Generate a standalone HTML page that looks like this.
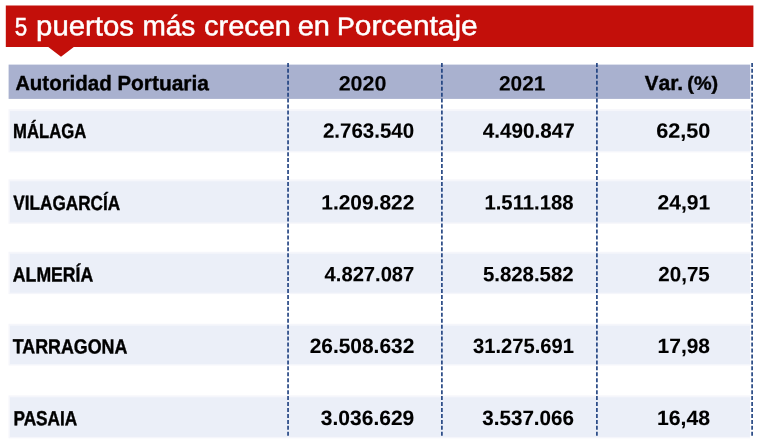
<!DOCTYPE html>
<html lang="es">
<head>
<meta charset="utf-8">
<title>5 puertos más crecen en Porcentaje</title>
<style>
html,body{margin:0;padding:0;background:#fff}
#w{position:relative;width:760px;height:447px;overflow:hidden;background:#fff;font-family:"Liberation Sans",sans-serif}
#w svg{position:absolute;left:0;top:0}
#w span{position:absolute;left:0;top:0;white-space:nowrap;transform-origin:0 0}
i{font-style:normal}
h1{margin:0;font-size:inherit;font-weight:inherit}
.t{font-weight:400;color:#fff;-webkit-text-stroke:0.5px #fff}
.b{font-weight:700;color:#000;-webkit-text-stroke:0.4px #000}
</style>
</head>
<body>
<div id="w">
<svg width="760" height="447" viewBox="0 0 760 447">
<path d="M5.8 5.5H753.4V47.1H73.8L61 56.7L48.3 47.1H5.8Z" fill="#c30f0a"/>
<rect x="8.6" y="64.6" width="741.6" height="34.3" fill="#a9b1cf"/>
<rect x="8.5" y="109.2" width="741.7" height="43.2" fill="#f5f6fb"/>
<rect x="10" y="111.1" width="739.9" height="39.9" fill="#ebeff8"/>
<rect x="8.5" y="179.4" width="741.7" height="44.4" fill="#f5f6fb"/>
<rect x="10" y="181.3" width="739.9" height="41.1" fill="#ebeff8"/>
<rect x="8.5" y="251.8" width="741.7" height="42.3" fill="#f5f6fb"/>
<rect x="10" y="253.7" width="739.9" height="39.0" fill="#ebeff8"/>
<rect x="8.5" y="323.8" width="741.7" height="41.7" fill="#f5f6fb"/>
<rect x="10" y="325.7" width="739.9" height="38.4" fill="#ebeff8"/>
<rect x="8.5" y="395.4" width="741.7" height="42.9" fill="#f5f6fb"/>
<rect x="10" y="397.3" width="739.9" height="39.6" fill="#ebeff8"/>
<line x1="288.05" y1="62.9" x2="288.05" y2="437.4" stroke="#1a3d7d" stroke-width="1.6" stroke-dasharray="4 1.95"/>
<line x1="441.9" y1="62.9" x2="441.9" y2="437.4" stroke="#1a3d7d" stroke-width="1.6" stroke-dasharray="4 1.95"/>
<line x1="596.9" y1="62.9" x2="596.9" y2="437.4" stroke="#1a3d7d" stroke-width="1.6" stroke-dasharray="4 1.95"/>
<line x1="752.1" y1="62.9" x2="752.1" y2="437.4" stroke="#1a3d7d" stroke-width="1.6" stroke-dasharray="4 1.95"/>
</svg>
<h1><span class="t" style="font-size:25px;line-height:25px;-webkit-text-stroke-width:0.5px;transform:translate(14.83px,14.35px) scaleX(0.8937) rotate(0.04deg)">5</span> <span class="t" style="font-size:28px;line-height:28px;-webkit-text-stroke-width:0.5px;transform:translate(36.10px,12.35px) scaleX(1.0474) rotate(0.04deg)">puertos</span> <span class="t" style="font-size:28px;line-height:28px;-webkit-text-stroke-width:0.5px;transform:translate(142.41px,12.35px) scaleX(1.0001) rotate(0.04deg)">más</span> <span class="t" style="font-size:28px;line-height:28px;-webkit-text-stroke-width:0.5px;transform:translate(204.13px,12.35px) scaleX(1.0333) rotate(0.04deg)">crecen</span> <span class="t" style="font-size:28px;line-height:28px;-webkit-text-stroke-width:0.5px;transform:translate(297.73px,12.35px) scaleX(1.0356) rotate(0.04deg)">en</span> <span class="t" style="font-size:28px;line-height:28px;-webkit-text-stroke-width:0.5px;transform:translate(337.00px,11.98px) scaleX(1.0670) rotate(0.04deg)"><i style="font-size:25px">P</i>orcentaje</span></h1>
<div role="table">
<div role="row" class="hd">
<div role="columnheader"><span class="b" style="font-size:21px;line-height:21px;-webkit-text-stroke-width:0.4px;transform:translate(15.44px,72.10px) scaleX(0.9754) rotate(0.04deg)"><i style="font-size:20.4px">A</i>utoridad</span> <span class="b" style="font-size:21px;line-height:21px;-webkit-text-stroke-width:0.4px;transform:translate(117.42px,72.10px) scaleX(0.9968) rotate(0.04deg)"><i style="font-size:20.4px">P</i>ortuaria</span></div>
<div role="columnheader"><span class="b" style="font-size:20.8px;line-height:20.8px;-webkit-text-stroke-width:0.1px;transform:translate(338.64px,73.50px) scaleX(1.0324) rotate(0.04deg)">2020</span></div>
<div role="columnheader"><span class="b" style="font-size:20.8px;line-height:20.8px;-webkit-text-stroke-width:0.1px;transform:translate(498.95px,73.50px) scaleX(1.0045) rotate(0.04deg)">2021</span></div>
<div role="columnheader"><span class="b" style="font-size:21px;line-height:21px;-webkit-text-stroke-width:0.4px;transform:translate(644.83px,72.10px) scaleX(1.0045) rotate(0.04deg)"><i style="font-size:20.4px">V</i>ar.</span> <span class="b" style="font-size:19px;line-height:19px;-webkit-text-stroke-width:0.4px;transform:translate(687.29px,73.80px) scaleX(1.0440) rotate(0.04deg)">(%)</span></div>
</div>
<div role="row">
<div role="rowheader"><span class="b" style="font-size:20.4px;line-height:20.4px;-webkit-text-stroke-width:0.4px;transform:translate(13.13px,121.05px) scaleX(0.8173) rotate(0.04deg)">MÁLAGA</span></div>
<div role="cell"><span class="b" style="font-size:20.8px;line-height:20.8px;-webkit-text-stroke-width:0.1px;transform:translate(322.97px,120.75px) scaleX(0.9850) rotate(0.04deg)">2.763.540</span></div>
<div role="cell"><span class="b" style="font-size:20.8px;line-height:20.8px;-webkit-text-stroke-width:0.1px;transform:translate(482.82px,120.75px) scaleX(0.9945) rotate(0.04deg)">4.490.847</span></div>
<div role="cell"><span class="b" style="font-size:20.8px;line-height:20.8px;-webkit-text-stroke-width:0.1px;transform:translate(656.25px,120.75px) scaleX(1.0407) rotate(0.04deg)">62,50</span></div>
</div>
<div role="row">
<div role="rowheader"><span class="b" style="font-size:20.4px;line-height:20.4px;-webkit-text-stroke-width:0.4px;transform:translate(13.36px,192.85px) scaleX(0.8410) rotate(0.04deg)">VILAGARCÍA</span></div>
<div role="cell"><span class="b" style="font-size:20.8px;line-height:20.8px;-webkit-text-stroke-width:0.1px;transform:translate(321.31px,192.55px) scaleX(1.0050) rotate(0.04deg)">1.209.822</span></div>
<div role="cell"><span class="b" style="font-size:20.8px;line-height:20.8px;-webkit-text-stroke-width:0.1px;transform:translate(484.44px,192.55px) scaleX(0.9761) rotate(0.04deg)">1.511.188</span></div>
<div role="cell"><span class="b" style="font-size:20.8px;line-height:20.8px;-webkit-text-stroke-width:0.1px;transform:translate(657.55px,192.55px) scaleX(1.0121) rotate(0.04deg)">24,91</span></div>
</div>
<div role="row">
<div role="rowheader"><span class="b" style="font-size:20.4px;line-height:20.4px;-webkit-text-stroke-width:0.4px;transform:translate(12.88px,264.55px) scaleX(0.8656) rotate(0.04deg)">ALMERÍA</span></div>
<div role="cell"><span class="b" style="font-size:20.8px;line-height:20.8px;-webkit-text-stroke-width:0.1px;transform:translate(324.62px,264.25px) scaleX(0.9694) rotate(0.04deg)">4.827.087</span></div>
<div role="cell"><span class="b" style="font-size:20.8px;line-height:20.8px;-webkit-text-stroke-width:0.1px;transform:translate(482.90px,264.25px) scaleX(0.9810) rotate(0.04deg)">5.828.582</span></div>
<div role="cell"><span class="b" style="font-size:20.8px;line-height:20.8px;-webkit-text-stroke-width:0.1px;transform:translate(658.36px,264.25px) scaleX(0.9876) rotate(0.04deg)">20,75</span></div>
</div>
<div role="row">
<div role="rowheader"><span class="b" style="font-size:20.4px;line-height:20.4px;-webkit-text-stroke-width:0.4px;transform:translate(12.69px,336.35px) scaleX(0.8747) rotate(0.04deg)">TARRAGONA</span></div>
<div role="cell"><span class="b" style="font-size:20.8px;line-height:20.8px;-webkit-text-stroke-width:0.1px;transform:translate(309.65px,336.05px) scaleX(1.0053) rotate(0.04deg)">26.508.632</span></div>
<div role="cell"><span class="b" style="font-size:20.8px;line-height:20.8px;-webkit-text-stroke-width:0.1px;transform:translate(473.00px,336.05px) scaleX(0.9708) rotate(0.04deg)">31.275.691</span></div>
<div role="cell"><span class="b" style="font-size:20.8px;line-height:20.8px;-webkit-text-stroke-width:0.1px;transform:translate(657.60px,336.05px) scaleX(1.0075) rotate(0.04deg)">17,98</span></div>
</div>
<div role="row">
<div role="rowheader"><span class="b" style="font-size:20.4px;line-height:20.4px;-webkit-text-stroke-width:0.4px;transform:translate(13.50px,408.25px) scaleX(0.8436) rotate(0.04deg)">PASAIA</span></div>
<div role="cell"><span class="b" style="font-size:20.8px;line-height:20.8px;-webkit-text-stroke-width:0.1px;transform:translate(320.88px,407.95px) scaleX(1.0093) rotate(0.04deg)">3.036.629</span></div>
<div role="cell"><span class="b" style="font-size:20.8px;line-height:20.8px;-webkit-text-stroke-width:0.1px;transform:translate(482.29px,407.95px) scaleX(0.9907) rotate(0.04deg)">3.537.066</span></div>
<div role="cell"><span class="b" style="font-size:20.8px;line-height:20.8px;-webkit-text-stroke-width:0.1px;transform:translate(656.89px,407.95px) scaleX(1.0214) rotate(0.04deg)">16,48</span></div>
</div>
</div>
</div>
</body>
</html>
